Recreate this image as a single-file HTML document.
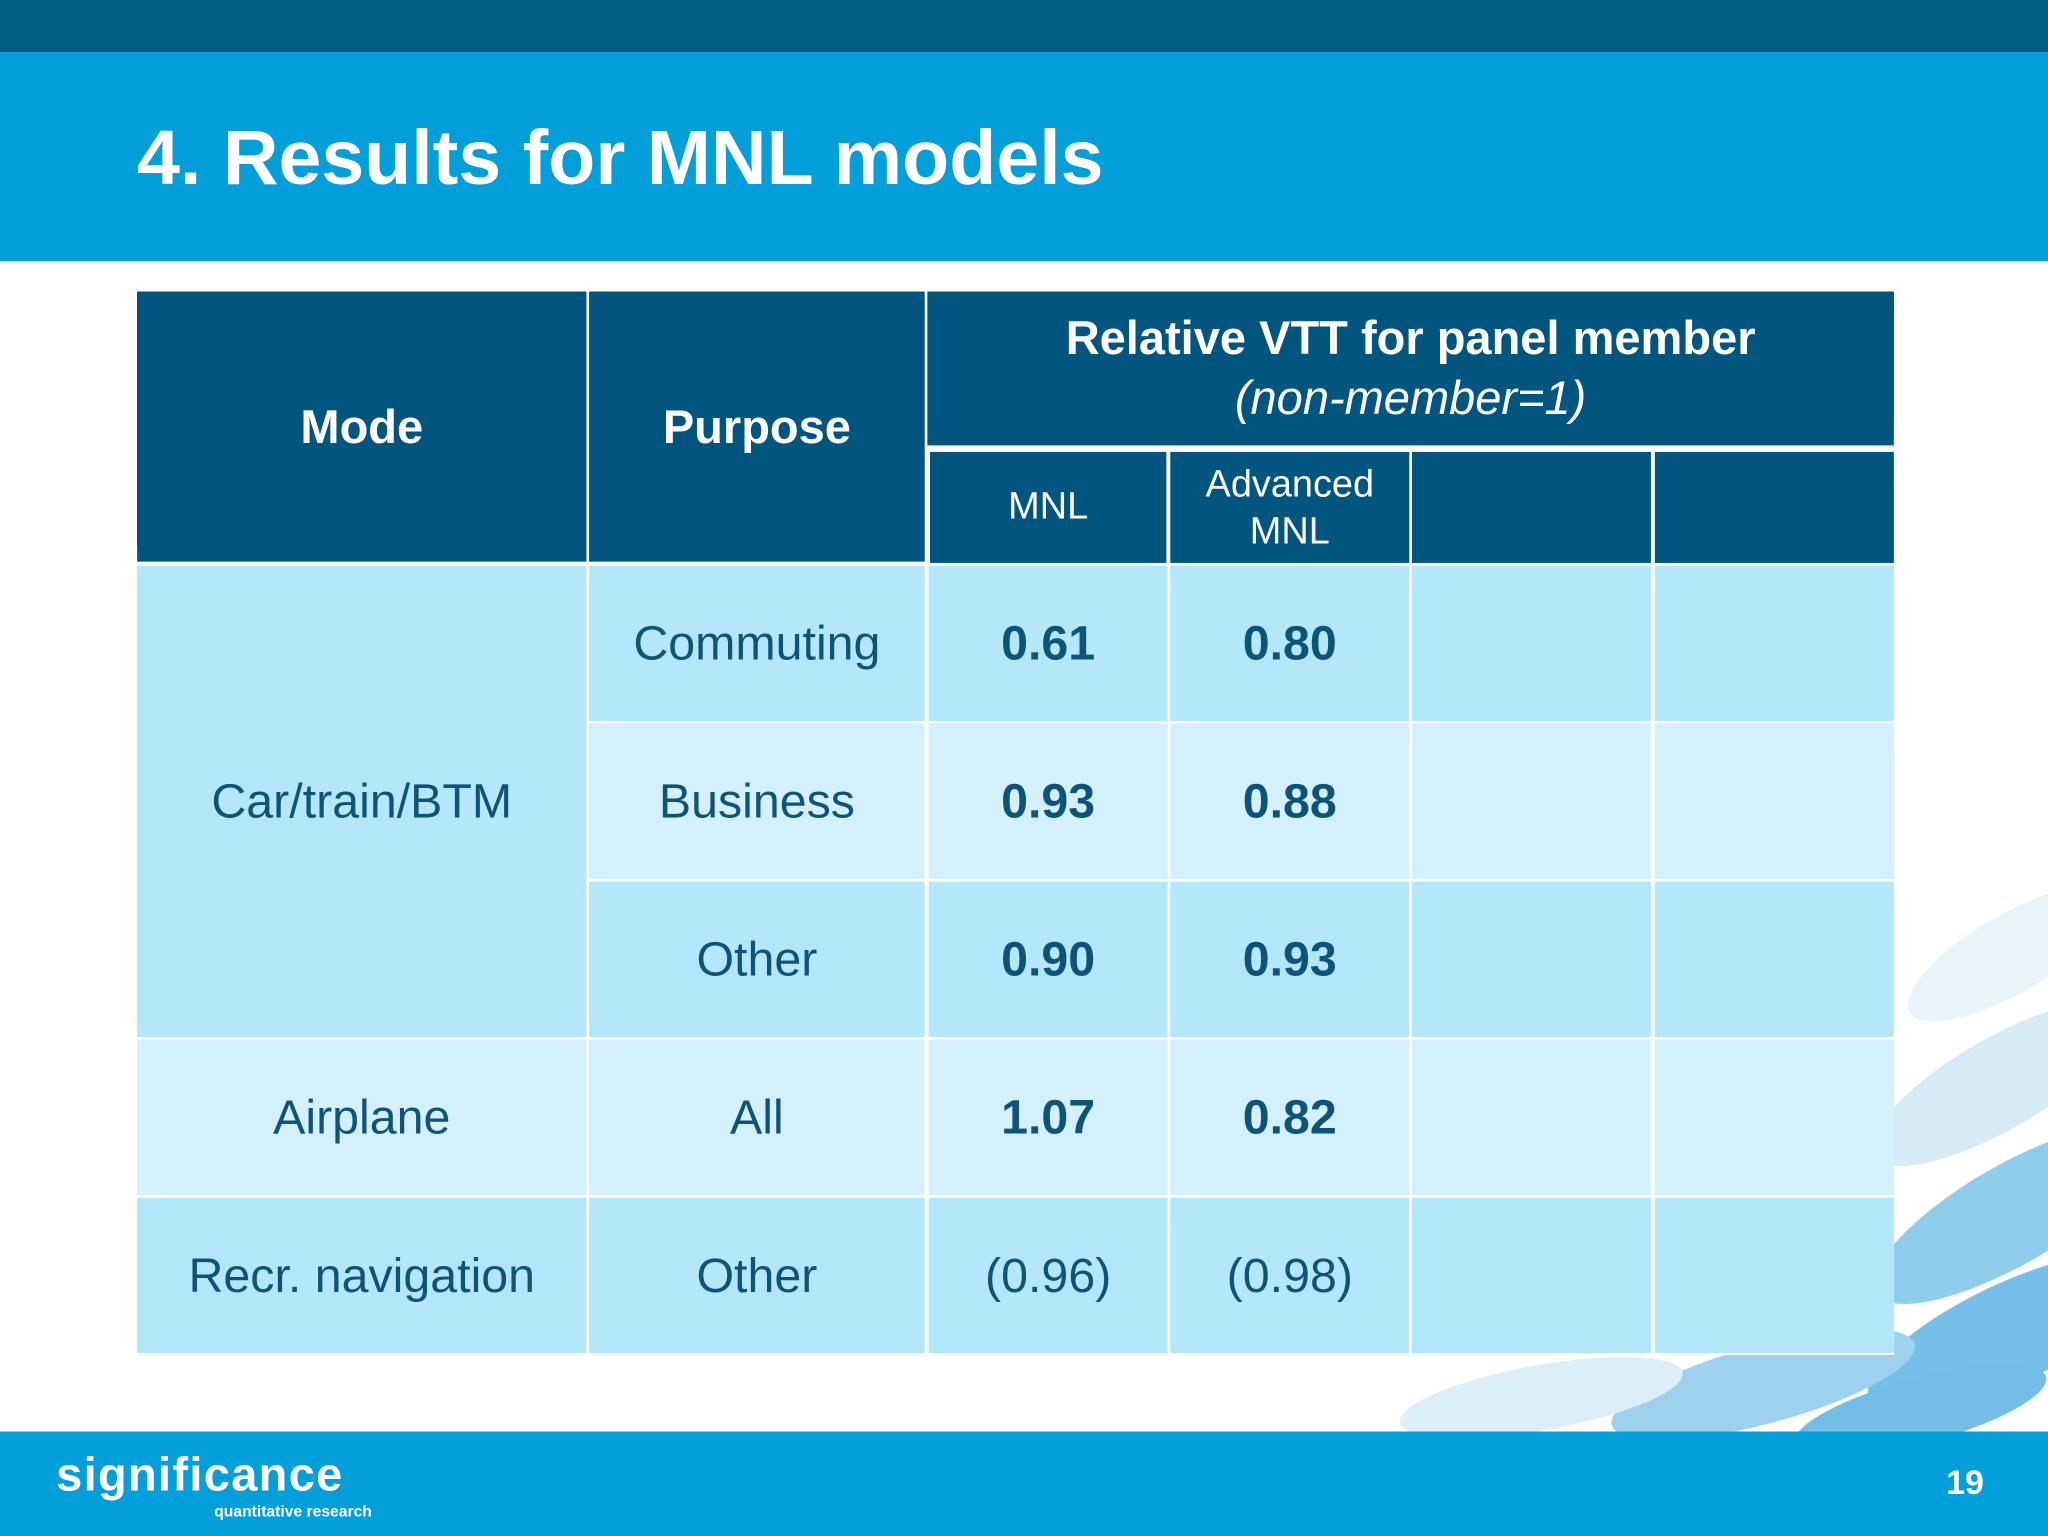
<!DOCTYPE html>
<html><head><meta charset="utf-8"><style>
html,body{margin:0;padding:0;width:2048px;height:1536px;overflow:hidden;background:#fff}
#s{position:absolute;left:0;top:0;width:1568px;height:1176px;transform:scale(1.306122);transform-origin:0 0;font-family:"Liberation Sans",sans-serif;background:#fff}
.a{position:absolute}
.c{position:absolute;display:flex;align-items:center;justify-content:center;text-align:center;color:#0d5478;font-size:37px}
.h{background:#02557f;color:#fff;font-weight:bold;font-size:36px}
.b{font-weight:bold}
</style></head><body><div id="s">
<div class="a" style="left:0;top:0;width:1568px;height:40px;background:#035c83"></div>
<div class="a" style="left:0;top:40px;width:1568px;height:160px;background:#039fdb"></div>
<div class="a" style="left:105px;top:85px;color:#fff;font-weight:bold;font-size:59px;line-height:72px">4. Results for MNL models</div>
<svg class="a" style="left:1000px;top:600px" width="568" height="500">
<g opacity="0.85">
<ellipse cx="540" cy="130" rx="90" ry="30" transform="rotate(-30 540 130)" fill="#e5f2f9"/>
<ellipse cx="530" cy="230" rx="110" ry="35" transform="rotate(-30 530 230)" fill="#cfe8f5"/>
<ellipse cx="540" cy="330" rx="120" ry="38" transform="rotate(-30 540 330)" fill="#7cc3e8"/>
<ellipse cx="540" cy="420" rx="120" ry="38" transform="rotate(-25 540 420)" fill="#5db5e5"/>
<ellipse cx="350" cy="460" rx="120" ry="30" transform="rotate(-15 350 460)" fill="#8cc9ea"/>
<ellipse cx="180" cy="470" rx="110" ry="25" transform="rotate(-10 180 470)" fill="#d6ebf6"/>
<ellipse cx="470" cy="480" rx="100" ry="25" transform="rotate(-15 470 480)" fill="#5ab2e2"/>
</g></svg>
<div class="a" style="left:105px;top:223px;width:1345px;height:814px;background:#fff"></div>
<div class="c h" style="left:105px;top:223px;width:344px;height:207px">Mode</div>
<div class="c h" style="left:451px;top:223px;width:257px;height:207px">Purpose</div>
<div class="c h" style="left:710px;top:223px;width:740px;height:118px;flex-direction:column;line-height:46px"><div>Relative VTT for panel member</div><div style="font-weight:normal;font-style:italic">(non-member=1)</div></div>
<div class="c h" style="left:712px;top:346px;width:181px;height:85px;font-weight:normal;font-size:29px">MNL</div>
<div class="c h" style="left:896px;top:346px;width:183px;height:85px;font-weight:normal;font-size:29px;line-height:36px">Advanced<br>MNL</div>
<div class="c h" style="left:1081px;top:346px;width:183px;height:85px"></div>
<div class="c h" style="left:1267px;top:346px;width:183px;height:85px"></div>
<div class="c" style="left:105px;top:433px;width:344px;height:361px;background:#b5e7fb">Car/train/BTM</div>
<div id="rows"></div>
<div class="a" style="left:0;top:1096px;width:1568px;height:80px;background:#039fdb"></div>
<div class="a" style="left:43px;top:1108px;color:#fff;font-weight:bold;font-size:36px;letter-spacing:1px">significance</div>
<div class="a" style="left:164px;top:1150px;color:#fff;font-size:12px;font-weight:bold">quantitative research</div>
<div class="a" style="left:1490px;top:1120px;color:#fff;font-weight:bold;font-size:26px">19</div>
<script>
var purposes=["Commuting","Business","Other","All","Other"];
var modes=[null,null,null,"Airplane","Recr. navigation"];
var mnl=["0.61","0.93","0.90","1.07","(0.96)"];
var adv=["0.80","0.88","0.93","0.82","(0.98)"];
var bold=[1,1,1,1,0];
var bg=["#b5e7fb","#d3f0fc","#b5e7fb","#d3f0fc","#b5e7fb"];
var host=document.getElementById('rows');
function cell(x,y,w,h,t,c,b,name){var d=document.createElement('div');d.className='c'+(b?' b':'');
d.style.cssText='left:'+x+'px;top:'+y+'px;width:'+w+'px;height:'+h+'px;background:'+c;d.textContent=t||'';


host.appendChild(d);}
for(var i=0;i<5;i++){var y=433+i*121,h=119;
if(modes[i])cell(105,y,344,h,modes[i],bg[i],0,'mode-cell');
cell(451,y,257,h,purposes[i],bg[i],0,'purpose-cell');
cell(711,y,183,h,mnl[i],bg[i],bold[i],'mnl-value');
cell(896,y,183,h,adv[i],bg[i],bold[i],'advanced-mnl-value');
cell(1081,y,183,h,'',bg[i],0,'empty-cell');
cell(1267,y,183,h,'',bg[i],0,'empty-cell');}
</script>
</div></body></html>
